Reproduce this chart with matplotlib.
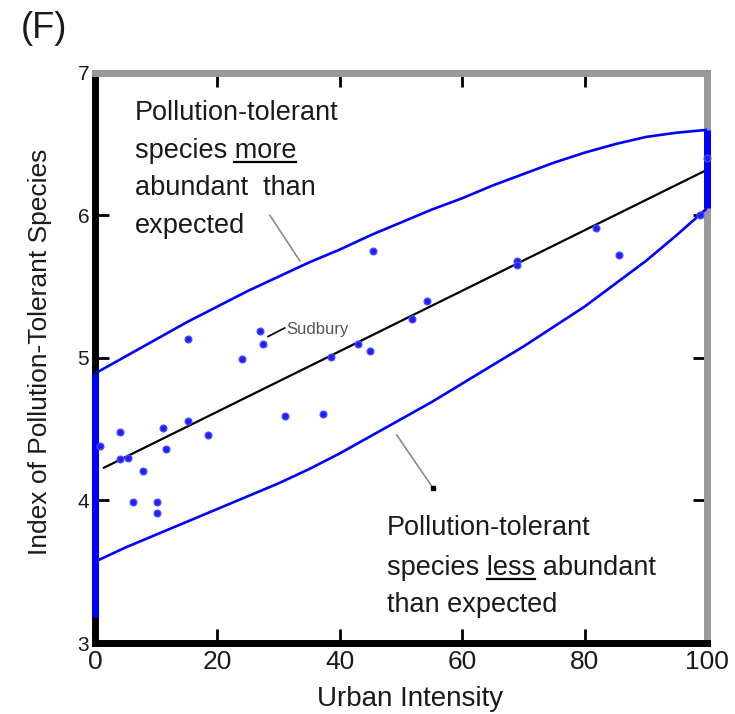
import matplotlib
matplotlib.use("Agg")
import matplotlib.pyplot as plt
import numpy as np

# ---------------- data ----------------
pts_x = [0.8, 4.1, 4.1, 5.4, 7.8, 6.2, 10.1, 10.1, 11.1, 11.7, 15.2, 18.5, 15.2,
         24.0, 27.0, 27.5, 31.0, 37.3, 38.6, 43.0, 45.0, 45.4, 51.8, 54.3,
         69.0, 69.0, 81.8, 85.6, 98.8, 100.0]
pts_y = [4.38, 4.48, 4.29, 4.30, 4.21, 3.99, 3.99, 3.91, 4.51, 4.36, 4.56, 4.46, 5.13,
         4.99, 5.19, 5.10, 4.59, 4.61, 5.01, 5.10, 5.05, 5.75, 5.27, 5.40,
         5.68, 5.65, 5.91, 5.72, 6.00, 6.40]

band_x = [0, 5, 10, 15, 20, 25, 30, 35, 40, 45, 50, 55, 60, 65, 70, 75, 80, 85, 90, 95, 100]
upper_y = [4.89, 5.01, 5.13, 5.25, 5.36, 5.47, 5.57, 5.67, 5.76, 5.86, 5.95, 6.04,
           6.12, 6.21, 6.29, 6.37, 6.44, 6.50, 6.55, 6.58, 6.60]
lower_y = [3.57, 3.67, 3.76, 3.85, 3.94, 4.03, 4.12, 4.22, 4.33, 4.45, 4.57, 4.69,
           4.82, 4.95, 5.08, 5.22, 5.36, 5.52, 5.68, 5.86, 6.05]

left_edge_y = [3.18, 4.89]
right_edge_y = [6.05, 6.60]

fit_x = [1.5, 100]
fit_y = [4.23, 6.32]

x_ticks = [0, 20, 40, 60, 80, 100]
y_ticks = [3, 4, 5, 6, 7]

FONT = ['Liberation Sans', 'DejaVu Sans']
plt.rcParams['font.family'] = FONT

BLUE = '#0000ff'
TXT = '#1a1a1a'
GRAY = '#8c8c8c'

fig = plt.figure(figsize=(7.35, 7.14), dpi=100)
ax = fig.add_axes([0.129, 0.0994, 0.833, 0.7986])
ax.set_xlim(0, 100)
ax.set_ylim(3, 7)

# prediction band
ax.plot(band_x, upper_y, color=BLUE, lw=1.9, zorder=4, solid_joinstyle='round')
ax.plot(band_x, lower_y, color=BLUE, lw=1.9, zorder=4, solid_joinstyle='round')
ax.plot([0, 0], left_edge_y, color=BLUE, lw=5, zorder=6, clip_on=False,
        solid_capstyle='butt')
ax.plot([100, 100], right_edge_y, color=BLUE, lw=5, zorder=6, clip_on=False,
        solid_capstyle='butt')

# regression line
ax.plot(fit_x, fit_y, color='black', lw=1.6, zorder=5)

# points
ax.plot(pts_x, pts_y, 'o', color='#1f1fff', ms=5, mec='#5050ff', mew=0.8,
        zorder=7, clip_on=False)

# spines
for s in ['left', 'bottom']:
    ax.spines[s].set_linewidth(5)
    ax.spines[s].set_color('black')
for s in ['top', 'right']:
    ax.spines[s].set_linewidth(5)
    ax.spines[s].set_color('#999999')

ax.set_xticks(x_ticks)
ax.set_yticks(y_ticks)
ax.tick_params(axis='both', direction='in', length=10, width=2,
               top=True, right=True, color='black')
ax.tick_params(axis='x', labelsize=19, pad=5, labelcolor=TXT)
ax.tick_params(axis='y', labelsize=15, pad=4, labelcolor=TXT)

ax.set_xlabel('Urban Intensity', fontsize=20, color=TXT)
ax.xaxis.set_label_coords(0.515, -0.075)
ax.set_ylabel('Index of Pollution-Tolerant Species', fontsize=19, color=TXT)
ax.yaxis.set_label_coords(-0.070, 0.51)

fig.text(0.028, 0.985, '(F)', fontsize=26, color=TXT, va='top', ha='left')

# annotation texts
FS = 19.5
up_lines = ['Pollution-tolerant', 'species more', 'abundant  than', 'expected']
up_base = [6.669, 6.401, 6.141, 5.873]
lo_lines = ['Pollution-tolerant', 'species less abundant', 'than expected']
lo_base = [3.761, 3.479, 3.218]

for s, yb in zip(up_lines, up_base):
    ax.text(6.5, yb, s, fontsize=FS, color=TXT, va='baseline', ha='left')
for s, yb in zip(lo_lines, lo_base):
    ax.text(47.7, yb, s, fontsize=FS, color=TXT, va='baseline', ha='left')

ax.text(31.2, 5.20, 'Sudbury', fontsize=12, color='#555555', va='center', ha='left')
ax.plot([28.3, 31.0], [5.15, 5.21], color='black', lw=1.2, zorder=5)

# leader lines
ax.plot([28.6, 33.5], [6.0, 5.68], color=GRAY, lw=1.2, zorder=3)
ax.plot([49.3, 55.2], [4.46, 4.09], color=GRAY, lw=1.2, zorder=3)
ax.plot([55.2], [4.09], 's', color='black', ms=2.5, zorder=3)

# underlines
fig.canvas.draw()
renderer = fig.canvas.get_renderer()

def width_px(s):
    t = ax.text(0, 0, s, fontsize=FS)
    w = t.get_window_extent(renderer).width
    t.remove()
    return w

def underline(x0_data, yb, prefix_with_word, word):
    x0_disp, yb_disp = ax.transData.transform((x0_data, yb))
    end = x0_disp + width_px(prefix_with_word)
    start = end - width_px(word)
    yy = yb_disp - 4
    inv = ax.transData.inverted()
    (a, b) = inv.transform((start, yy))
    (c, d) = inv.transform((end, yy))
    ax.plot([a, c], [b, d], color='black', lw=1.6, zorder=5)

underline(6.5, up_base[1], 'species more', 'more')
underline(47.7, lo_base[1], 'species less', 'less')

fig.savefig('out.png', dpi=100)
